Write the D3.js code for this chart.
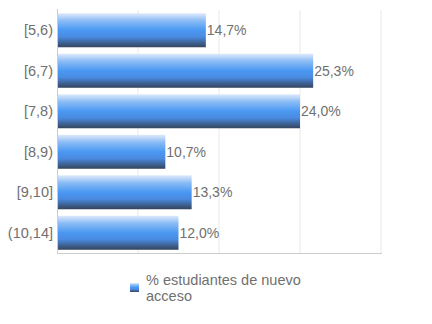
<!DOCTYPE html>
<html>
<head>
<meta charset="utf-8">
<script src="https://cdn.jsdelivr.net/npm/d3@7"></script>
<style>
body { margin: 0; background: #fff; }
text { font-family: "Liberation Sans", Arial, sans-serif; }
</style>
</head>
<body>
<svg id="chart" width="432" height="324"></svg>
<script>
'use strict';

var categories = ["[5,6)", "[6,7)", "[7,8)", "[8,9)", "[9,10]", "(10,14]"];
var values = [14.7, 25.3, 24.0, 10.7, 13.3, 12.0];
var xTicks = [0, 8, 16, 24, 32];
var seriesName = ["% estudiantes de nuevo", "acceso"];

var LEFT = 57, RIGHT = 381, TOP = 10, BOTTOM = 253;
var TEXT_COLOR = "#707070";

var svg = d3.select("#chart");

var defs = svg.append("defs");
var grad = defs.append("linearGradient")
  .attr("id", "barGrad")
  .attr("x1", 0).attr("y1", 0).attr("x2", 0).attr("y2", 1);
grad.append("stop").attr("offset", "0%").attr("stop-color", "#dfeafc");
grad.append("stop").attr("offset", "22%").attr("stop-color", "#8bbcf5");
grad.append("stop").attr("offset", "50%").attr("stop-color", "#4a98f2");
grad.append("stop").attr("offset", "70%").attr("stop-color", "#4a8ae0");
grad.append("stop").attr("offset", "88%").attr("stop-color", "#3d5f8e");
grad.append("stop").attr("offset", "100%").attr("stop-color", "#35455e");

var x = d3.scaleLinear().domain([0, 32]).range([LEFT, RIGHT]);
var y = d3.scaleBand().domain(categories).range([TOP, BOTTOM]).paddingInner(0.16).paddingOuter(0.08);

// gridlines
svg.append("g")
  .selectAll("line")
  .data(xTicks.slice(1))
  .enter().append("line")
  .attr("x1", function(d){ return x(d); })
  .attr("x2", function(d){ return x(d); })
  .attr("y1", TOP).attr("y2", BOTTOM)
  .attr("stroke", "#e8e8e8").attr("stroke-width", 1);

// bars
svg.append("g")
  .selectAll("rect")
  .data(values)
  .enter().append("rect")
  .attr("x", x(0))
  .attr("y", function(d, i){ return y(categories[i]); })
  .attr("width", function(d){ return x(d) - x(0); })
  .attr("height", y.bandwidth())
  .attr("fill", "url(#barGrad)");

// value labels
svg.append("g")
  .selectAll("text")
  .data(values)
  .enter().append("text")
  .attr("x", function(d){ return x(d) + 1; })
  .attr("y", function(d, i){ return y(categories[i]) + y.bandwidth() / 2; })
  .attr("dy", "0.35em")
  .attr("font-size", 14)
  .attr("fill", TEXT_COLOR)
  .text(function(d){ return d.toFixed(1).replace(".", ",") + "%"; });

// category labels
svg.append("g")
  .selectAll("text")
  .data(categories)
  .enter().append("text")
  .attr("x", LEFT - 4)
  .attr("y", function(d){ return y(d) + y.bandwidth() / 2; })
  .attr("dy", "0.35em")
  .attr("text-anchor", "end")
  .attr("font-size", 14.5)
  .attr("fill", TEXT_COLOR)
  .text(function(d){ return d; });

// axes lines
svg.append("line")
  .attr("x1", LEFT + 0.5).attr("x2", LEFT + 0.5)
  .attr("y1", TOP - 1).attr("y2", BOTTOM)
  .attr("stroke", "#ccc");
svg.append("line")
  .attr("x1", LEFT).attr("x2", RIGHT + 1)
  .attr("y1", BOTTOM + 0.5).attr("y2", BOTTOM + 0.5)
  .attr("stroke", "#ccc");

// legend
svg.append("rect")
  .attr("x", 130).attr("y", 283)
  .attr("width", 9).attr("height", 9)
  .attr("fill", "url(#barGrad)");
svg.append("text")
  .attr("x", 146).attr("y", 285)
  .attr("font-size", 14.5)
  .attr("fill", TEXT_COLOR)
  .selectAll("tspan")
  .data(seriesName)
  .enter().append("tspan")
  .attr("x", 146)
  .attr("dy", function(d, i){ return i === 0 ? 0 : 16; })
  .text(function(d){ return d; });
</script>
</body>
</html>
